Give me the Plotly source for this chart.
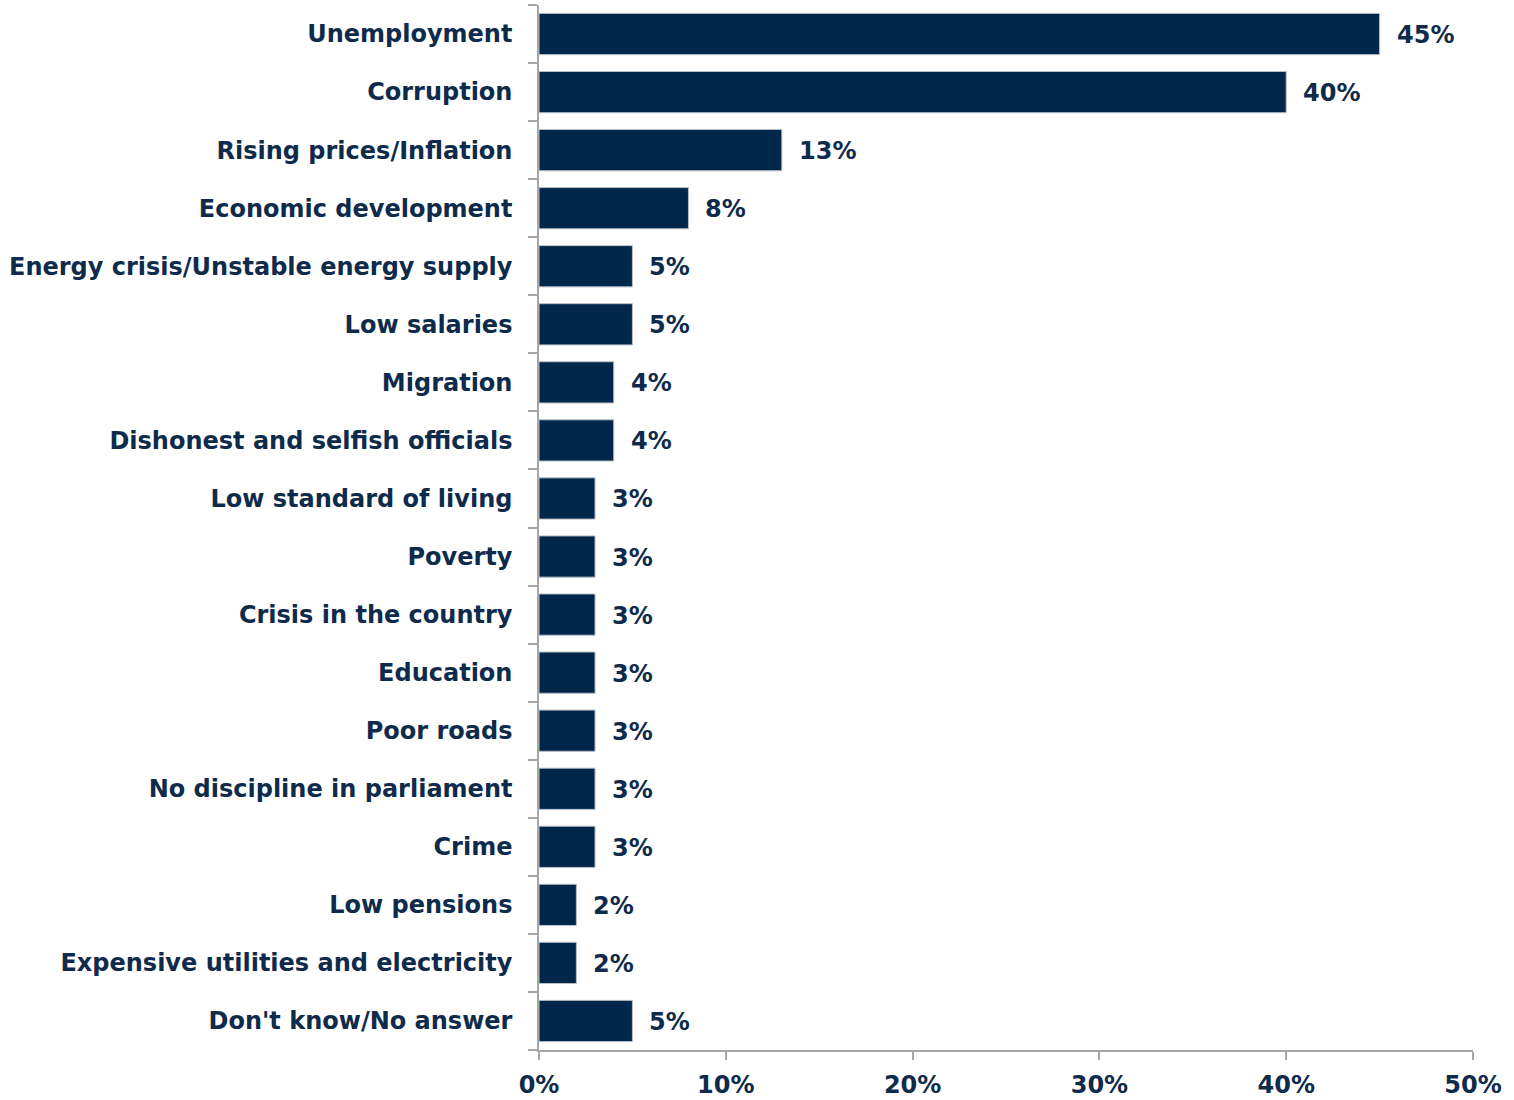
import plotly.graph_objects as go

categories = [
    "Unemployment", "Corruption", "Rising prices/Inflation", "Economic development",
    "Energy crisis/Unstable energy supply", "Low salaries", "Migration",
    "Dishonest and selfish officials", "Low standard of living", "Poverty",
    "Crisis in the country", "Education", "Poor roads", "No discipline in parliament",
    "Crime", "Low pensions", "Expensive utilities and electricity", "Don't know/No answer",
]
values = [45, 40, 13, 8, 5, 5, 4, 4, 3, 3, 3, 3, 3, 3, 3, 2, 2, 5]
x_ticks = [0, 10, 20, 30, 40, 50]
x_tick_labels = ["0%", "10%", "20%", "30%", "40%", "50%"]

NAVY = "#002649"
TEXT = "#0f2b4c"
GRID = "#a6a6a6"
FONT = "DejaVu Sans"

fig = go.Figure(go.Bar(
    x=values, y=categories, orientation="h",
    marker=dict(color=NAVY, line=dict(color="#b8c0c8", width=1)),
    hoverinfo="skip",
))

for c, v in zip(categories, values):
    fig.add_annotation(x=v, y=c, text=f"<b>{v}%</b>", showarrow=False,
                       xanchor="left", xshift=15, yshift=-1,
                       font=dict(family=FONT, size=24, color=TEXT))

fig.update_layout(
    width=1514, height=1100,
    margin=dict(l=539, r=41, t=5, b=50, autoexpand=False),
    plot_bgcolor="white", paper_bgcolor="white",
    bargap=0.29, showlegend=False,
    font=dict(family=FONT, size=24, color=TEXT),
)
fig.update_xaxes(
    range=[0, 50], tickvals=x_ticks, ticktext=[f"<b>{t}</b>" for t in x_tick_labels],
    showgrid=False, zeroline=False, showline=True, linecolor=GRID, linewidth=1.5,
    ticks="outside", ticklen=8, tickcolor=GRID, tickwidth=1.5, ticklabelstandoff=4,
    tickfont=dict(family=FONT, size=24, color=TEXT),
)
fig.update_yaxes(
    categoryorder="array", categoryarray=categories, autorange="reversed",
    tickvals=categories, ticktext=[f"<b>{c}</b>" for c in categories],
    showgrid=False, zeroline=False, showline=True, linecolor=GRID, linewidth=1.5,
    ticks="outside", ticklen=9, tickcolor=GRID, tickwidth=1.5, tickson="boundaries",
    ticklabelstandoff=20,
    tickfont=dict(family=FONT, size=24, color=TEXT),
)

fig.write_html("out.html", config={"displayModeBar": False},
               post_script="document.body.style.margin='0px';")
